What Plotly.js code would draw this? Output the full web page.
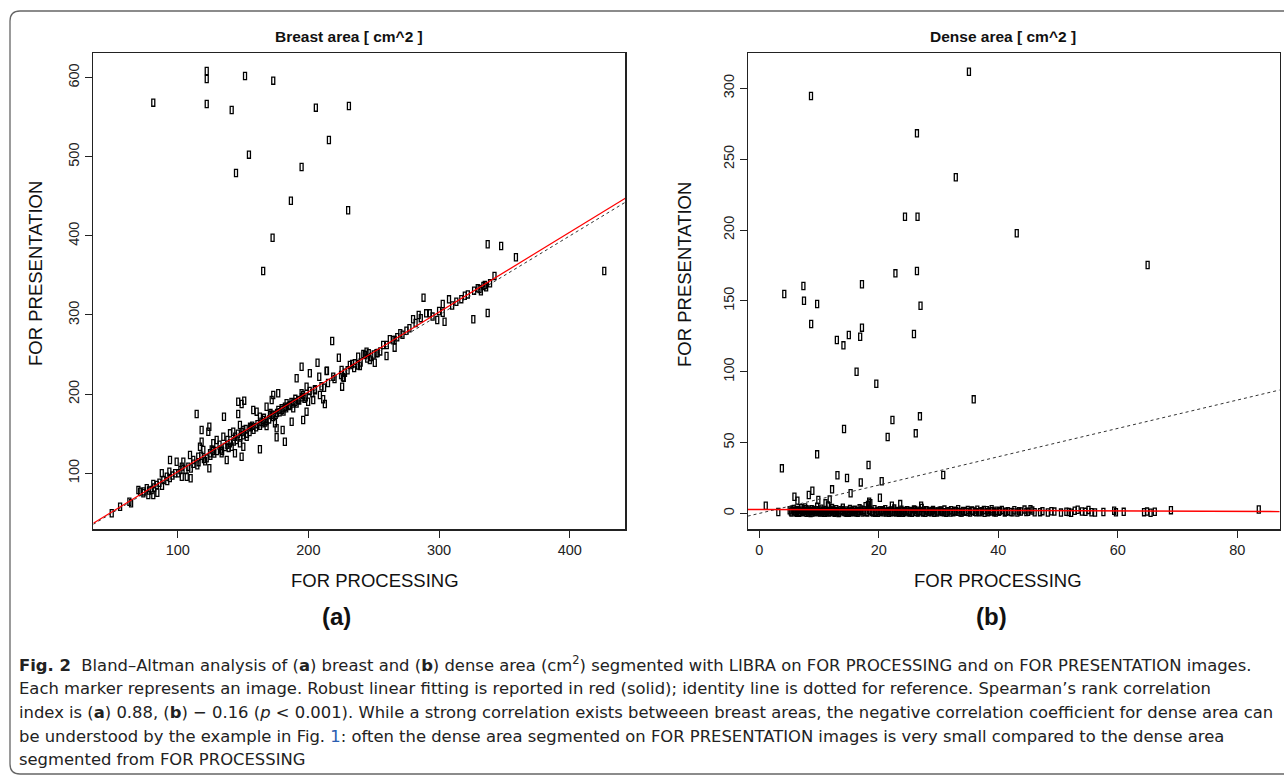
<!DOCTYPE html>
<html>
<head>
<meta charset="utf-8">
<script src="https://cdn.plot.ly/plotly-3.0.1.min.js"></script>
<style>html,body{margin:0;padding:0;background:#fff;}#chart{width:1284px;height:778px;}</style>
</head>
<body>
<div id="chart"></div>
<script>
// ---------- Panel (a): Breast area [cm^2] ----------
const breastProcessing = [
81.3,122.2,122.2,122.2,151.5,173.1,141.3,205.7,231.0,215.7,154.5,144.6,194.8,186.6,230.4,172.6,165.4,
337.2,347.5,358.8,426.4,342.4,337.2,326.2,333.9,329.6,326.8,319.7,313.2,307.6,288.1,302.8,302.8,304.2,298.6,292.9,290.1,284.4,280.1,277.3,270.3,266,266,
286,282,295,300,310,317,322,331,335,339,275,272,268,336,332,
218.2,223.3,207,194.8,191,201.1,208.3,213.9,219,225.4,227.1,225.8,231.7,235.5,239.4,243.2,247,250.8,259.8,257.2,264.8,262.3,252.1,244.5,238.1,233.5,246.2,242,226.4,214.2,
205,210,215,220,225,230,235,240,245,250,255,260,212,228,238,248,253,203,198,
205,203.7,208.8,198.6,194.8,199.8,211.3,212.6,198.6,196,187.2,192.2,188.4,183.3,179.5,176.9,173.1,171.9,168,170.6,174.4,175.7,180.3,182,175.7,162.9,160.4,157.8,162.9,165.4,168,155.3,150.2,152.8,147.6,146.3,146.3,150.9,148.9,147.6,150.2,148.9,143.8,141.3,137.5,133.6,142.5,140,134.9,135.4,129.8,127.2,123.4,124.2,118.3,114.5,118.3,119.6,117,124.7,122.2,124.2,115.7,111.9,109.4,108.1,103.1,104.3,100.5,103.1,106.9,109.9,94.1,99.2,93.6,87.8,89,91.6,84,81.3,80.1,76.3,73.7,77.5,81.3,84.4,69.9,71.2,63,64.3,55.9,49.5,
112,116,120,125,128,130,133,136,138,140,143,145,148,150,153,155,158,160,163,165,168,170,173,175,178,180,183,185,188,190,193,195,118,132,146,156,166,176,186,196,126,138,152,164,172,182,190,110,106,96,98,92,86,82,78,74,88,102,94,115,121,127,134,139,144,149,157,161,167,171,177,181,187,191,197,201
];
const breastPresentation = [
568.4,608.5,598.4,566.8,602.2,596.2,559.2,562.1,564.2,521.2,502.7,479.5,487.1,444.5,432.4,397.7,355.6,
389.4,387.2,372.9,355.6,349.3,302.5,294.6,336.7,333.8,330.7,324.4,316.8,319.8,321.9,313.9,302.9,291.5,293.7,302.1,302.1,300,294.6,283.2,276.9,268.4,258.7,
296,290,298,305,312,320,326,333,338,340,280,275,272,335,330,
267.1,246,239.7,234.6,220,226.3,222,229.2,222,230.5,220.7,209.4,236.8,238.9,235.5,249.4,243.1,239.7,248.2,262.1,268.4,269.3,251.6,253.6,247.3,238,251.6,250.7,221.2,229.6,
205,210,214,219,224,230,233,240,245,250,254,262,208,227,236,247,252,201,196,
206.1,192.5,198.9,209.4,201,190.4,193.4,187.5,177.8,167.3,165.1,192.5,182,188.4,182,201,198.9,192.5,184.1,173.6,163.1,156.8,154.6,139.8,145.4,130.2,177.8,179.9,171.4,167.3,159.7,158.8,154.6,146.1,160.9,174.8,190.4,191.7,187.5,137.8,133.5,120.9,125.2,133.5,116.7,125.2,152.5,150.4,146.1,171.4,142,137.8,152.5,158.8,154.6,174.8,139.8,129.3,133.5,125.2,118.8,106.2,120.9,116.7,123,108.2,108.2,114.5,99.9,95.6,95.6,93.6,116.7,114.5,101.9,99.9,91.4,95.6,85.1,86.3,78.8,80.9,74.6,72.4,72.4,75.3,78.8,76.6,64,61.9,57.6,49.3,
112,114,118,122,125,128,130,133,136,138,140,142,145,148,150,152,155,158,160,163,166,168,171,174,177,180,182,185,188,190,192,196,122,136,150,158,170,176,186,199,130,142,156,165,174,184,194,106,104,97,100,90,88,82,78,77,84,104,94,110,115,128,128,132,146,152,160,162,164,176,180,178,190,188,194,204
];
// robust fit (red, solid) and identity (dotted) endpoints, panel a
const fitA_x = [35.4, 442.5];
const fitA_y = [36.7, 447.5];
const identA = [35.4, 442.5];

// ---------- Panel (b): Dense area [cm^2] ----------
const denseProcessing = [
8.67,35.1,26.4,32.9,24.4,26.5,43.1,
65.0,22.8,26.4,17.2,7.4,4.2,7.5,9.7,27,8.7,17.2,16.9,15,13,14.1,25.9,16.3,19.6,35.9,26.9,22.3,14.2,21.5,26.2,9.7,3.8,18.3,13.1,14.7,30.8,17,20.5,12.2,8.9,8.3,15.3,5.9,20.2,11.8,9.9,18.4,6.4,11.1,1.1,23.6,27.1,22.2,
3.2,5.1,5.4,5.8,6.0,6.3,6.5,6.8,7.0,7.2,7.5,7.7,7.9,8.1,8.4,8.6,8.8,9.0,9.3,9.5,9.7,9.9,10.2,10.4,10.6,10.8,11.1,11.3,11.5,11.7,12.0,12.2,12.4,12.6,12.9,13.1,13.3,13.6,13.8,14.0,14.3,14.5,14.8,15.0,15.2,15.5,15.7,16.0,16.2,16.5,16.8,17.0,17.3,17.5,17.8,18.0,18.2,18.4,18.6,18.8,19.0,19.3,19.6,19.9,20.2,20.5,20.8,21.1,21.4,21.7,22.0,22.3,22.6,22.9,23.2,23.5,23.8,24.1,24.4,24.7,25.0,25.3,25.6,25.9,26.2,26.5,26.8,27.2,27.5,27.8,28.1,28.5,28.8,29.1,29.5,29.8,30.2,30.6,31.0,31.3,31.7,32.1,32.5,32.9,33.3,33.7,34.1,34.5,34.9,35.3,35.7,36.1,36.5,36.9,37.3,37.7,38.1,38.5,38.9,39.3,39.7,40.1,40.6,41.1,41.6,42.1,42.7,43.2,43.8,44.4,45.0,45.4,46.1,47.4,48.3,48.9,50.5,51.4,52.2,52.8,53.3,54.6,55.1,55.6,57.6,59.4,59.7,61.0,64.4,64.9,65.5,66.2,68.9,83.6,
5.3,5.6,6.1,6.4,6.7,7.1,7.4,7.8,8.2,8.5,8.9,9.2,9.6,10.0,10.3,10.7,11.0,11.4,11.9,12.3,12.7,13.0,13.4,13.9,14.2,14.6,15.1,15.4,15.9,16.3,16.7,17.1,17.6,18.1,18.5,18.9,19.4,19.8,20.3,20.7,21.2,21.6,22.1,22.5,23.0,23.4,23.9,24.3,24.8,25.2,25.7,26.1,26.6,27.0,27.4,27.9,28.4,28.9,29.3,29.9,30.4,30.9,31.5,32.0,32.7,33.2,33.9,34.4,35.0,35.6,36.3,37.0,37.6,38.3,39.0,39.6,40.3,41.3,42.4,43.5,44.7,45.7,47.0,49.4,51.8,54.0,56.2
];
const densePresentation = [
294.6,311.7,268.2,237.2,209.4,209.4,197.7,
175.3,169.4,171.1,161.7,160.5,154.8,150.1,147.8,146.6,133.7,131.1,124.7,125.9,122.4,118.6,126.6,100,91.5,80.5,68.5,65.9,59.6,53.9,56.5,41.7,31.8,34.2,26.9,25,27.1,21.9,22.7,17,16,13,14.2,11.8,11.1,9.9,9.5,8.3,9,7.1,5.4,6.6,5.4,5.4,
1.0,2.2,0.6,3.1,1.5,0.4,2.4,1.1,3.6,0.8,1.9,4.2,0.5,2.7,1.3,0.3,3.0,1.7,0.9,2.2,4.8,1.2,0.6,3.3,1.8,0.4,2.5,1.0,5.6,0.7,2.0,3.8,1.4,0.5,2.9,1.1,0.3,2.3,1.6,4.0,0.8,2.1,1.2,0.5,3.2,1.7,0.9,2.6,1.3,0.4,3.6,1.9,0.7,2.3,5.1,1.0,6.0,2.4,7.2,1.5,0.6,3.0,1.2,0.4,2.2,1.6,0.8,2.9,1.3,0.5,2.0,1.0,3.4,0.6,1.8,1.1,2.6,0.4,1.5,2.3,0.9,1.7,0.5,2.8,1.2,0.7,1.9,3.9,1.0,0.5,2.1,1.3,0.8,2.5,1.4,0.6,1.9,1.0,2.7,0.5,1.5,2.2,0.9,1.6,2.9,0.7,1.8,1.1,2.4,0.6,1.7,1.2,2.6,0.8,1.5,0.5,2.2,1.3,2.9,0.9,1.9,1.1,2.4,0.7,1.6,1.0,2.2,0.6,1.4,2.7,1.1,3.0,0.8,1.6,0.7,1.5,0.6,1.2,0.5,1.9,2.6,1.1,2.5,0.8,1.0,1.9,0.8,1.1,0.9,1.3,0.5,1.2,2.3,2.8,
1.4,2.8,0.9,1.7,0.5,2.0,1.2,2.9,0.7,1.9,0.6,2.5,1.4,0.8,2.1,1.5,0.4,1.8,1.0,2.6,0.9,1.7,0.6,2.4,1.3,0.5,1.9,1.0,2.2,0.7,1.5,2.8,1.2,0.6,2.0,1.1,0.5,1.8,1.0,2.3,0.7,1.6,0.9,2.1,1.2,0.5,1.7,1.0,2.0,0.6,1.4,2.4,0.9,1.6,0.6,2.2,1.0,1.7,0.5,1.3,2.0,0.8,1.4,0.6,1.9,1.1,0.7,1.6,1.0,2.1,0.8,1.3,2.4,0.9,1.5,0.6,1.8,1.2,0.8,1.5,1.0,2.0,0.9,1.3,1.0,1.4,0.7
];
const fitB_x = [-1.92, 87.1];
const fitB_y = [2.8, 1.3];
const identB = [-1.92, 87.1];

const xTicksA = [100, 200, 300, 400];
const yTicksA = [100, 200, 300, 400, 500, 600];
const xTicksB = [0, 20, 40, 60, 80];
const yTicksB = [0, 50, 100, 150, 200, 250, 300];

// ---------- geometry helpers (pixel -> paper, margins are 0) ----------
const W = 1284, H = 778;
const px = v => v / W;
const py = v => 1 - v / H;

function pointTrace(xs, ys, xa, ya) {
  return {
    type: 'scatter', mode: 'markers', x: xs, y: ys, xaxis: xa, yaxis: ya,
    marker: {symbol: 'square-open', size: 7, color: '#000', line: {width: 1.3, color: '#000'}},
    hoverinfo: 'skip', showlegend: false, cliponaxis: true
  };
}
function lineTrace(xs, ys, xa, ya, color, dash, width) {
  return {type: 'scatter', mode: 'lines', x: xs, y: ys, xaxis: xa, yaxis: ya,
    line: {color: color, dash: dash, width: width}, hoverinfo: 'skip', showlegend: false};
}

const traces = [
  pointTrace(breastProcessing, breastPresentation, 'x', 'y'),
  lineTrace(identA, identA, 'x', 'y', '#333', 'dot', 1),
  lineTrace(fitA_x, fitA_y, 'x', 'y', '#ff0000', 'solid', 1.2),
  pointTrace(denseProcessing, densePresentation, 'x2', 'y2'),
  lineTrace(identB, identB, 'x2', 'y2', '#333', 'dot', 1),
  lineTrace(fitB_x, fitB_y, 'x2', 'y2', '#ff0000', 'solid', 1.4)
];

const tickFont = {family: 'Liberation Sans, Arial, sans-serif', size: 14.5, color: '#222'};
function xAxis(domain, range, ticks, anchor) {
  return {domain: domain, range: range, tickvals: ticks, ticktext: ticks.map(String),
    anchor: anchor, showline: true, mirror: true, linecolor: '#222', linewidth: 1.2,
    ticks: 'outside', ticklen: 7, tickwidth: 1, tickcolor: '#222', tickfont: tickFont,
    showgrid: false, zeroline: false, fixedrange: true};
}
function yAxis(domain, range, ticks, anchor) {
  return {domain: domain, range: range, tickvals: ticks, ticktext: ticks.map(String),
    anchor: anchor, showline: true, mirror: true, linecolor: '#222', linewidth: 1.2,
    ticks: 'outside', ticklen: 7, tickwidth: 1, tickcolor: '#222', tickfont: tickFont,
    tickangle: -90, showgrid: false, zeroline: false, fixedrange: true};
}

const ann = (text, x, y, size, opts) => Object.assign({
  text: text, xref: 'paper', yref: 'paper', x: px(x), y: py(y),
  xanchor: 'center', yanchor: 'middle', showarrow: false,
  font: {family: 'Liberation Sans, Arial, sans-serif', size: size, color: '#111'}
}, opts || {});

const capFont = {family: 'DejaVu Sans', size: 16.4, color: '#222'};
const capLines = [
  '<b>Fig. 2</b>  Bland–Altman analysis of (<b>a</b>) breast and (<b>b</b>) dense area (cm<sup>2</sup>) segmented with LIBRA on FOR PROCESSING and on FOR PRESENTATION images.',
  'Each marker represents an image. Robust linear fitting is reported in red (solid); identity line is dotted for reference. Spearman’s rank correlation',
  'index is (<b>a</b>) 0.88, (<b>b</b>) − 0.16 (<i>p</i> &lt; 0.001). While a strong correlation exists betweeen breast areas, the negative correlation coefficient for dense area can',
  'be understood by the example in Fig. <span style="color:#2a5db0">1</span>: often the dense area segmented on FOR PRESENTATION images is very small compared to the dense area',
  'segmented from FOR PROCESSING'
];
const capY = [664, 688, 712, 736, 759];

const annotations = [
  ann('<b>Breast area [ cm^2 ]</b>', 348.7, 37, 15.5),
  ann('<b>Dense area [ cm^2 ]</b>', 1003, 37, 15.5),
  ann('FOR PROCESSING', 374.5, 580.5, 18.5),
  ann('FOR PROCESSING', 998, 580.5, 18.5),
  ann('FOR PRESENTATION', 35, 274, 18.5, {textangle: -90}),
  ann('FOR PRESENTATION', 684, 274, 18.5, {textangle: -90}),
  ann('<b>(a)</b>', 336.7, 616, 24),
  ann('<b>(b)</b>', 991, 616, 24)
];
capLines.forEach((t, i) => annotations.push({
  text: t, xref: 'paper', yref: 'paper', x: px(17), y: py(capY[i]),
  xanchor: 'left', yanchor: 'middle', align: 'left', showarrow: false, font: capFont
}));

// figure frame with rounded left corners
const fl = 10, ft = 11, fb = 774, r = 10;
const framePath = `M ${px(W + 20)},${py(ft)} L ${px(fl + r)},${py(ft)} Q ${px(fl)},${py(ft)} ${px(fl)},${py(ft + r)} ` +
  `L ${px(fl)},${py(fb - r)} Q ${px(fl)},${py(fb)} ${px(fl + r)},${py(fb)} L ${px(W + 20)},${py(fb)}`;

const layout = {
  width: W, height: H,
  margin: {l: 0, r: 0, t: 0, b: 0, pad: 0},
  paper_bgcolor: '#fff', plot_bgcolor: '#fff',
  showlegend: false,
  xaxis: xAxis([px(93.3), px(625.3)], [35.4, 442.5], xTicksA, 'y'),
  yaxis: yAxis([py(529.3), py(53.3)], [29.1, 630.8], yTicksA, 'x'),
  xaxis2: xAxis([px(747.7), px(1279.7)], [-1.92, 87.1], xTicksB, 'y2'),
  yaxis2: yAxis([py(529.3), py(53.3)], [-11.2, 324.7], yTicksB, 'x2'),
  annotations: annotations,
  shapes: [{type: 'path', xref: 'paper', yref: 'paper', path: framePath,
    line: {color: '#666', width: 1.3}, fillcolor: 'rgba(0,0,0,0)'}]
};

// the reference marker is a tall, narrow open rectangle: reshape the library's square markers
function tallenMarkers(gd) {
  gd.querySelectorAll('.scatterlayer path.point').forEach(p => {
    p.setAttribute('d', 'M1.5,3.6H-1.5V-3.6H1.5Z');
  });
}

const gd = document.getElementById('chart');
Plotly.newPlot(gd, traces, layout, {displayModeBar: false, staticPlot: true}).then(() => tallenMarkers(gd));
</script>
</body>
</html>
